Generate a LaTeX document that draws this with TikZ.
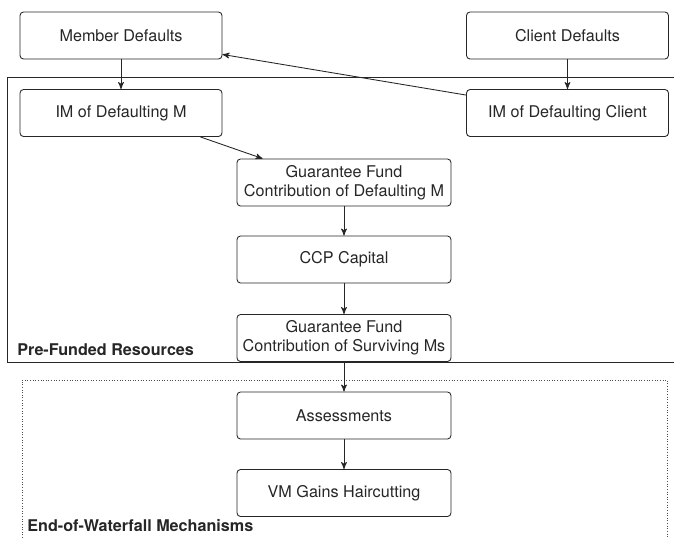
\documentclass[tikz,border=0pt]{standalone}
\usepackage{fontspec}
\setmainfont{TeX Gyre Heros}
\usetikzlibrary{arrows, positioning}

\begin{document}
\begin{tikzpicture}[x=0.02cm, y=-0.02cm,
    box/.style={draw=black!85, line width=0.5pt, rounded corners=2pt, text=black!85, font=\fontsize{9.2}{11}\selectfont, align=center, minimum height=0.94cm, inner sep=1pt},
    sidebox/.style={box, minimum width=4.04cm},
    midbox/.style={box, minimum width=4.28cm},
    flow/.style={->, >=stealth', draw=black!85, line width=0.5pt},
    region/.style={font=\bfseries\fontsize{9.2}{11}\selectfont, text=black!85, anchor=west, inner sep=0pt}]
  \useasboundingbox (0,0) rectangle (674,538);

  % Resource areas (cut off at the page edge)
  \coordinate (pfa) at (674,77);
  \coordinate (pfb) at (7,362);
  \draw[draw=black!85, line width=0.5pt] (pfa) -| (pfb) -- (674,362);
  \coordinate (ewa) at (22,538);
  \coordinate (ewb) at (667,380);
  \draw[draw=black!70, line width=0.5pt, densely dotted] (ewa) |- (ewb) -- (667,538);
  \node[region] (pflabel) at (17,350) {Pre-Funded Resources};
  \node[region] (ewlabel) at (27,526) {End-of-Waterfall Mechanisms};

  % Defaults
  \node[sidebox] (md) at (121,35.5) {Member Defaults};
  \node[sidebox] (cd) at (567.5,35.5) {Client Defaults};

  % Initial margins
  \node[sidebox] (imm) at (121,113) {IM of Defaulting M};
  \node[sidebox] (imc) at (567.5,113) {IM of Defaulting Client};

  % Waterfall
  \node[midbox] (gfd) at (344,182.5) {Guarantee Fund\\Contribution of Defaulting M};
  \node[midbox] (ccp) at (344,259.5) {CCP Capital};
  \node[midbox] (gfs) at (344,338) {Guarantee Fund\\Contribution of Surviving Ms};
  \node[midbox] (asm) at (344,415.5) {Assessments};
  \node[midbox] (vmg) at (344,493) {VM Gains Haircutting};

  % Connections
  \draw[flow] (md) -- (imm);
  \draw[flow] (cd) -- (imc);
  \draw[flow] ([yshift=-0.12cm]imc.north west) -- ([yshift=0.1cm]md.south east);
  \draw[flow] ([xshift=-0.44cm]imm.south east) -- ([xshift=0.52cm]gfd.north west);
  \draw[flow] (gfd) -- (ccp);
  \draw[flow] (ccp) -- (gfs);
  \draw[flow] (gfs) -- (asm);
  \draw[flow] (asm) -- (vmg);
\end{tikzpicture}
\end{document}
